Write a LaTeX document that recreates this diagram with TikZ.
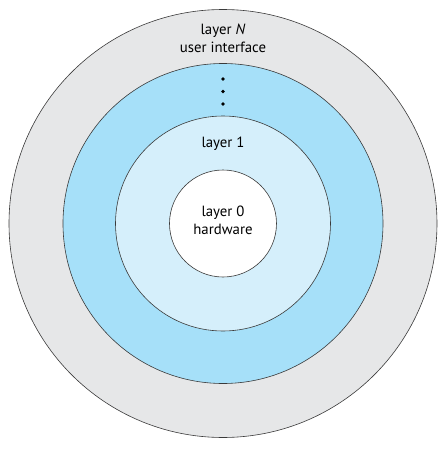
\documentclass[tikz,border=0pt]{standalone}
\usepackage{fontspec}
\setmainfont{PT Sans}
\definecolor{outergray}{HTML}{E6E7E8}
\definecolor{midblue}{HTML}{A6E0F9}
\definecolor{lightblue}{HTML}{D5EFFB}
\definecolor{ringline}{HTML}{3A3A3A}
\begin{document}
\begin{tikzpicture}[x=1pt, y=1pt,
	ring/.style={draw=ringline, line width=0.6pt},
	lbl/.style={align=center, inner sep=0pt, font=\fontsize{14.8}{18}\selectfont}]
		\useasboundingbox (-223,-227.5) rectangle (224,223.5);
		\draw[ring, fill=outergray] (0,0) circle (214);
		\draw[ring, fill=midblue] (0,0) circle (160);
		\draw[ring, fill=lightblue] (0,0) circle (107.5);
		\draw[ring, fill=white] (0,0) circle (53.5);
		\node[lbl] (layerN) at (0, 185.5) {layer \textit{N}\\user interface};
		\foreach \y in {144.5, 132, 119.5}
			\fill (0,\y) circle (1.9);
		\node[lbl] (layer1) at (0, 79.5) {layer 1};
		\node[lbl] (layer0) at (0, 3.5) {layer 0\\hardware};
	\end{tikzpicture}
\end{document}
